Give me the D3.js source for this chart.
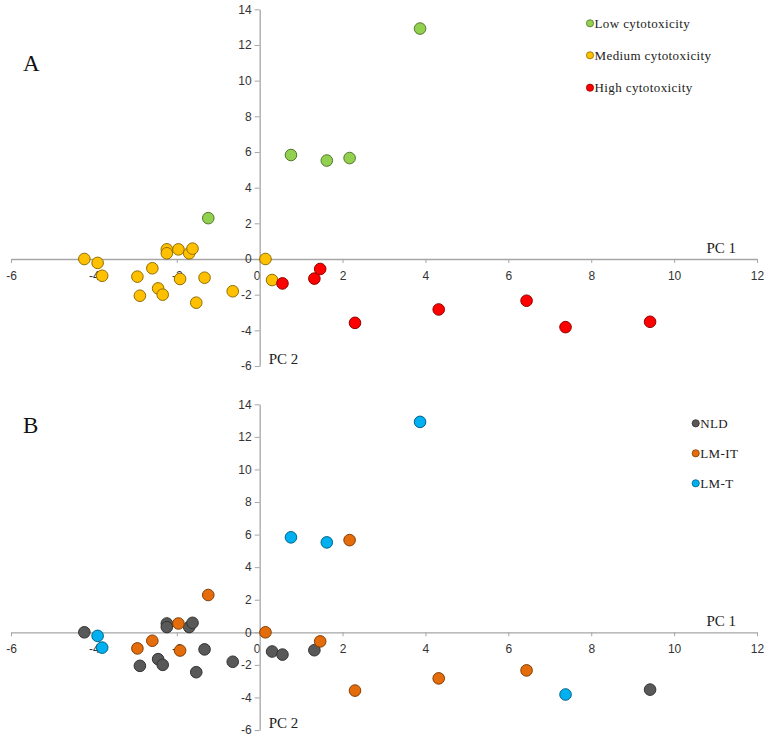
<!DOCTYPE html>
<html>
<head>
<meta charset="utf-8">
<script src="https://cdn.jsdelivr.net/npm/d3@7"></script>
<style>
  html, body { margin: 0; padding: 0; background: #fff; }
  svg { display: block; }
</style>
</head>
<body>
<svg id="chart" width="771" height="739"></svg>
<script>
// ---- Data ----
const pc1 = [-4.23,-3.91,-3.80,-2.95,-2.89,-2.59,-2.45,-2.34,-2.24,-2.24,-1.96,-1.92,-1.70,-1.62,-1.53,-1.33,-0.65,0.14,0.30,
             -1.24,0.755,1.62,2.17,3.87,
             0.55,1.32,1.46,2.30,4.32,6.44,7.38,9.42];
const pc2 = [0,-0.22,-0.94,-0.99,-2.06,-0.52,-1.65,-2.00,0.54,0.32,0.54,-1.12,0.32,0.58,-2.45,-1.05,-1.81,0,-1.18,
             2.29,5.83,5.52,5.66,12.92,
             -1.37,-1.10,-0.56,-3.58,-2.83,-2.34,-3.82,-3.52];
const cytotoxicity = ["Medium","Medium","Medium","Medium","Medium","Medium","Medium","Medium","Medium","Medium","Medium","Medium","Medium","Medium","Medium","Medium","Medium","Medium","Medium",
             "Low","Low","Low","Low","Low",
             "High","High","High","High","High","High","High","High"];
const tissue = ["NLD","LM-T","LM-T","LM-IT","NLD","LM-IT","NLD","NLD","NLD","NLD","LM-IT","LM-IT","NLD","NLD","NLD","NLD","NLD","LM-IT","NLD",
             "LM-IT","LM-T","LM-T","LM-IT","LM-T",
             "NLD","NLD","LM-IT","LM-IT","LM-IT","LM-IT","LM-T","NLD"];

const cytoCategories = ["Low","Medium","High"];
const cytoLabels = ["Low cytotoxicity","Medium cytotoxicity","High cytotoxicity"];
const cytoColors = ["#92d050","#ffc000","#ff0000"];
const tissueCategories = ["NLD","LM-IT","LM-T"];
const tissueColors = ["#595959","#e46c0a","#00b0f0"];

const xTicks = [-6,-4,-2,0,2,4,6,8,10,12];
const yTicks = [-6,-4,-2,0,2,4,6,8,10,12,14];

// ---- Drawing ----
const svg = d3.select("#chart");
const x = d3.scaleLinear().domain([-6, 12]).range([11, 757]);

const panels = [
  { letter: "A", yRange: [366, 9.3], letterY: 71, cats: cytoCategories, labels: cytoLabels, colors: cytoColors, key: cytotoxicity,
    legendX: 590, legendY: [23.3, 55.3, 87.7], legendFont: 13, order: ["Medium","Low","High"] },
  { letter: "B", yRange: [730, 404.3], letterY: 433, cats: tissueCategories, labels: tissueCategories, colors: tissueColors, key: tissue,
    legendX: 695.7, legendY: [423.3, 453.3, 483.3], legendFont: 13, order: ["NLD","LM-IT","LM-T"] }
];

const axisColor = "#a6a6a6";
const tickFont = "'Liberation Sans', Arial, sans-serif";
const serif = "'Liberation Serif', 'Times New Roman', serif";

panels.forEach(p => {
  const y = d3.scaleLinear().domain([-6, 14]).range(p.yRange);
  const g = svg.append("g");
  const color = d3.scaleOrdinal().domain(p.cats).range(p.colors);

  // x axis at y=0
  const xAxis = d3.axisBottom(x).tickValues(xTicks).tickSize(4).tickSizeOuter(0)
    .tickFormat(d => String(d).replace("\u2212", "-"));
  const gx = g.append("g").attr("transform", `translate(0,${y(0)})`).call(xAxis);
  gx.select(".domain").attr("stroke", axisColor).attr("stroke-width", 1.3);
  gx.selectAll(".tick line").attr("stroke", axisColor).attr("stroke-width", 1);
  gx.selectAll(".tick text").attr("font-family", tickFont).attr("font-size", 12)
    .attr("fill", "#333").attr("dy", "0.71em").attr("y", 12)
    .attr("dx", d => d === 0 ? -3 : 0);

  // y axis at x=0
  const yAxis = d3.axisLeft(y).tickValues(yTicks).tickSize(5).tickSizeOuter(0)
    .tickFormat(d => String(d).replace("\u2212", "-"));
  const gy = g.append("g").attr("transform", `translate(${x(0)},0)`).call(yAxis);
  gy.select(".domain").attr("stroke", axisColor).attr("stroke-width", 1.3);
  gy.selectAll(".tick line").attr("stroke", axisColor).attr("stroke-width", 1);
  gy.selectAll(".tick text").attr("font-family", tickFont).attr("font-size", 12)
    .attr("fill", "#333").attr("x", -8);

  // axis titles
  g.append("text").attr("x", x(12) - 21).attr("y", y(0) - 6).attr("text-anchor", "end")
    .attr("font-family", serif).attr("font-size", 15).attr("fill", "#222").text("PC 1");
  g.append("text").attr("x", x(0) + 9).attr("y", y(-6) - 2)
    .attr("font-family", serif).attr("font-size", 15).attr("fill", "#222").text("PC 2");

  // panel letter
  g.append("text").attr("x", 23).attr("y", p.letterY)
    .attr("font-family", serif).attr("font-size", 23).attr("fill", "#111").text(p.letter);

  // points
  const pts = pc1.map((v, i) => ({ pc1: v, pc2: pc2[i], cat: p.key[i] }));
  pts.sort((a, b) => p.order.indexOf(a.cat) - p.order.indexOf(b.cat));
  g.append("g").selectAll("circle").data(pts).join("circle")
    .attr("cx", d => x(d.pc1)).attr("cy", d => y(d.pc2)).attr("r", 5.8)
    .attr("fill", d => color(d.cat))
    .attr("stroke", d => d3.color(color(d.cat)).darker(1.6))
    .attr("stroke-width", 1);

  // legend
  const lg = g.append("g");
  p.cats.forEach((c, i) => {
    lg.append("circle").attr("cx", p.legendX).attr("cy", p.legendY[i]).attr("r", 3.6)
      .attr("fill", color(c)).attr("stroke", d3.color(color(c)).darker(1.6)).attr("stroke-width", 0.8);
    lg.append("text").attr("x", p.legendX + 4.5).attr("y", p.legendY[i]).attr("dy", "0.35em")
      .attr("font-family", serif).attr("font-size", p.legendFont).attr("letter-spacing", 0.4)
      .attr("fill", "#222").text(p.labels[i]);
  });
});
</script>
</body>
</html>
